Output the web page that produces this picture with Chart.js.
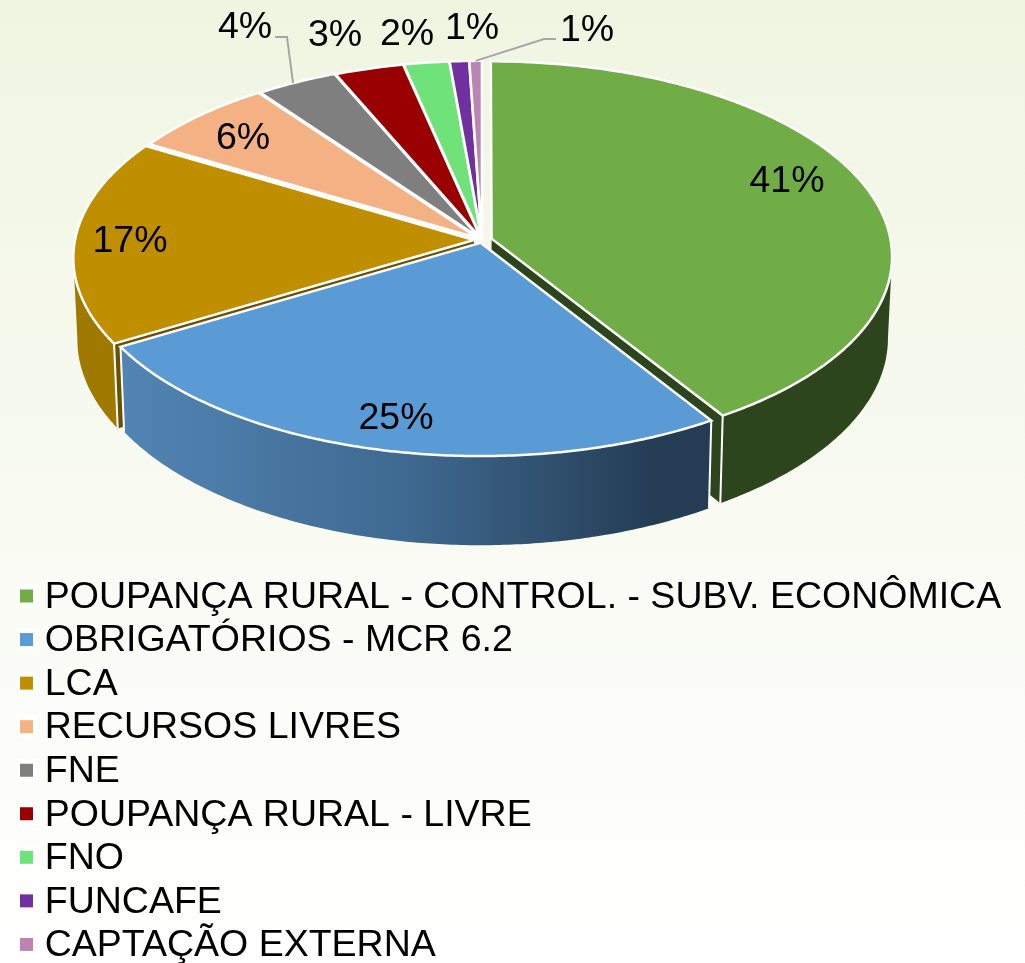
<!DOCTYPE html>
<html>
<head>
<meta charset="utf-8">
<style>html,body{margin:0;padding:0;background:#fff}canvas{display:block}</style>
<script src="https://cdn.jsdelivr.net/npm/chart.js@4/dist/chart.umd.js"></script>
</head>
<body>
<canvas id="c" width="1025" height="963"></canvas>
<script>
const categories = ["POUPANÇA RURAL - CONTROL. - SUBV. ECONÔMICA","OBRIGATÓRIOS - MCR 6.2","LCA","RECURSOS LIVRES","FNE","POUPANÇA RURAL - LIVRE","FNO","FUNCAFE","CAPTAÇÃO EXTERNA"];
const values = [41, 25.4, 17, 6.45, 3.6, 3.05, 2, 0.85, 0.55];
const topColors = ["#70AD47","#5B9BD5","#BF8F00","#F4B183","#7F7F7F","#990000","#70E27A","#7030A0","#BC84B3"];
const sideColors = ["#2D451C","#243D55","#A07A00","#A87A5A","#555555","#660000","#4A9852","#4A2070","#7F5878"];
const explode = [10, 6, 8, 6, 5, 4, 4, 4, 4];
const labelSpots = [[787,182],[396,419],[130,242],[243,139],[245,28],[335,36],[407,35],[472,29],[587,31]];

const CX = 482, CY = 240, R = 399;
const PERSP = 0.09, SQUASH = 0.485, DEPTH = 81, TAPER = 0.99;
const FONT = '"Liberation Sans", Arial, sans-serif';

function proj(arc, px, py) {
  const u = px / arc.outerRadius, v = py / arc.outerRadius, s = 1 / (1 - PERSP * v);
  return { x: arc.x + arc.outerRadius * u * s, y: arc.y + SQUASH * arc.outerRadius * v * s, s };
}
function lower(arc, p) {
  return { x: arc.x + (p.x - arc.x) * TAPER, y: p.y + DEPTH * p.s };
}
function rim(arc, a) {
  const mid = (arc.startAngle + arc.endAngle) / 2, off = arc.options.offset || 0;
  return proj(arc, Math.cos(mid) * off + Math.cos(a) * arc.outerRadius, Math.sin(mid) * off + Math.sin(a) * arc.outerRadius);
}
function apex(arc) {
  const mid = (arc.startAngle + arc.endAngle) / 2, off = arc.options.offset || 0;
  return proj(arc, Math.cos(mid) * off, Math.sin(mid) * off);
}
function samples(a0, a1) {
  const n = Math.max(2, Math.ceil(Math.abs(a1 - a0) / 0.01)), out = [];
  for (let i = 0; i <= n; i++) out.push(a0 + (a1 - a0) * i / n);
  return out;
}
function sideFill(ctx, i) {
  if (i !== 1) return sideColors[i];
  const g = ctx.createLinearGradient(120, 0, 712, 0);
  g.addColorStop(0, "#5285B4");
  g.addColorStop(0.5, "#3E688F");
  g.addColorStop(0.9, "#243D55");
  g.addColorStop(1, "#243D55");
  return g;
}

const pie3d = {
  id: "pie3d",
  beforeDraw(chart) {
    const ctx = chart.ctx, g = ctx.createLinearGradient(0, 0, 0, 963);
    g.addColorStop(0, "#F0F5E1");
    g.addColorStop(0.55, "#F9FBF3");
    g.addColorStop(1, "#FFFFFF");
    ctx.save(); ctx.fillStyle = g; ctx.fillRect(0, 0, 1025, 963); ctx.restore();
  },
  afterLayout(chart) {
    const h = R + (Math.max(...explode) + 2.5) / 2;
    const a = chart.chartArea;
    a.left = CX - h; a.right = CX + h; a.top = CY - h; a.bottom = CY + h;
    a.width = 2 * h; a.height = 2 * h;
    const l = chart.legend;
    l.left = 17.95; l.right = 1025; l.width = 1007.05; l.top = 572.7; l.bottom = 1100; l.height = 527.3;
  },
  beforeDatasetDraw(chart, args) {
    const ctx = chart.ctx, arcs = args.meta.data;
    const lim = Math.asin(PERSP);
    ctx.save();
    ctx.lineJoin = "round";
    // radial cut faces of the slices that reach the front of the pie
    arcs.forEach((arc, i) => {
      if (Math.min(arc.endAngle, Math.PI - lim) <= Math.max(arc.startAngle, lim)) return;
      const faces = [];
      if (Math.sin(arc.endAngle + Math.PI / 2) > 0) faces.push(arc.endAngle);
      if (Math.sin(arc.startAngle + Math.PI / 2) < 0) faces.push(arc.startAngle);
      faces.forEach(a => {
        const p0 = apex(arc), p1 = rim(arc, a), q1 = lower(arc, p1), q0 = lower(arc, p0);
        ctx.beginPath(); ctx.moveTo(p0.x, p0.y); ctx.lineTo(p1.x, p1.y); ctx.lineTo(q1.x, q1.y); ctx.lineTo(q0.x, q0.y); ctx.closePath();
        ctx.fillStyle = i === 2 ? "#6B5000" : sideColors[i];
        ctx.fill();
      });
    });
    // outer walls
    arcs.forEach((arc, i) => {
      const a0 = Math.max(arc.startAngle, lim), a1 = Math.min(arc.endAngle, Math.PI - lim);
      if (a1 <= a0) return;
      const as = samples(a0, a1);
      ctx.beginPath();
      as.forEach((a, k) => { const p = rim(arc, a); k ? ctx.lineTo(p.x, p.y) : ctx.moveTo(p.x, p.y); });
      as.slice().reverse().forEach(a => { const q = lower(arc, rim(arc, a)); ctx.lineTo(q.x, q.y); });
      ctx.closePath();
      ctx.fillStyle = sideFill(ctx, i);
      ctx.fill();
      ctx.strokeStyle = "#FFFFFF";
      ctx.lineWidth = 2;
      ctx.beginPath();
      const e = rim(arc, a0), f = lower(arc, e);
      if (a0 > lim) { ctx.moveTo(e.x, e.y); ctx.lineTo(f.x, f.y); }
      const g = rim(arc, a1), h = lower(arc, g);
      if (a1 < Math.PI - lim) { ctx.moveTo(g.x, g.y); ctx.lineTo(h.x, h.y); }
      ctx.stroke();
    });
    // top faces
    ctx.lineJoin = "miter";
    arcs.forEach((arc, i) => {
      const p0 = apex(arc);
      ctx.beginPath();
      ctx.moveTo(p0.x, p0.y);
      samples(arc.startAngle, arc.endAngle).forEach(a => { const p = rim(arc, a); ctx.lineTo(p.x, p.y); });
      ctx.closePath();
      ctx.fillStyle = arc.options.backgroundColor;
      ctx.fill();
      ctx.strokeStyle = arc.options.borderColor;
      ctx.lineWidth = arc.options.borderWidth;
      ctx.stroke();
    });
    ctx.restore();
    return false;
  },
  afterDatasetsDraw(chart) {
    const ctx = chart.ctx, arcs = chart.getDatasetMeta(0).data;
    const total = values.reduce((a, b) => a + b, 0);
    ctx.save();
    // leader lines
    ctx.strokeStyle = "#A6A6A6"; ctx.lineWidth = 2;
    const fne = arcs[4], ext = arcs[8];
    const p4 = rim(fne, (fne.startAngle + fne.endAngle) / 2 - 0.01);
    ctx.beginPath(); ctx.moveTo(275, 37); ctx.lineTo(287, 37); ctx.lineTo(p4.x, p4.y); ctx.stroke();
    const p8 = rim(ext, (ext.startAngle + ext.endAngle) / 2);
    ctx.beginPath(); ctx.moveTo(p8.x, p8.y); ctx.lineTo(544, 39); ctx.lineTo(556, 39); ctx.stroke();
    // percent labels
    ctx.fillStyle = "#000";
    ctx.font = "37.5px " + FONT;
    ctx.textAlign = "center"; ctx.textBaseline = "middle";
    values.forEach((v, i) => ctx.fillText(Math.round(v / total * 100) + "%", labelSpots[i][0], labelSpots[i][1]));
    ctx.restore();
  }
};

function legendSwatch(color) {
  const c = document.createElement("canvas");
  c.width = 28; c.height = 28;
  const x = c.getContext("2d");
  x.fillStyle = "rgba(255,255,255,0.9)";
  x.fillRect(4, 1, 23, 23);
  x.fillStyle = color;
  x.fillRect(9, 6, 13, 13);
  return c;
}

new Chart(document.getElementById("c"), {
  type: "pie",
  data: {
    labels: categories,
    datasets: [{
      data: values,
      backgroundColor: topColors,
      borderColor: "#FFFFFF",
      borderWidth: 2.5,
      offset: explode,
      hoverOffset: 0
    }]
  },
  options: {
    responsive: false,
    animation: false,
    events: [],
    plugins: {
      tooltip: { enabled: false },
      legend: {
        position: "left",
        align: "start",
        labels: {
          color: "#000",
          font: { family: FONT, size: 37.5 },
          usePointStyle: true,
          pointStyleWidth: 2,
          padding: 6.05,
          generateLabels(chart) {
            return categories.map((t, i) => ({
              text: t, index: i, fillStyle: topColors[i], strokeStyle: topColors[i], lineWidth: 0,
              fontColor: "#000", hidden: false, pointStyle: legendSwatch(topColors[i])
            }));
          }
        }
      }
    }
  },
  plugins: [pie3d]
});
</script>
</body>
</html>
